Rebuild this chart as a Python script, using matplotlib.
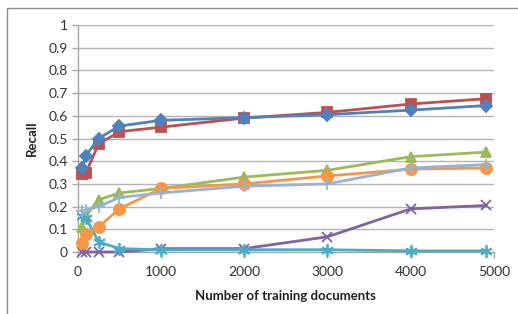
import matplotlib
matplotlib.use("Agg")
import matplotlib.pyplot as plt
from matplotlib.patches import Rectangle

x = [50, 100, 250, 500, 1000, 2000, 3000, 4000, 4900]
s_blue = [0.37, 0.425, 0.50, 0.555, 0.58, 0.592, 0.605, 0.625, 0.645]
s_red = [0.345, 0.35, 0.475, 0.53, 0.55, 0.59, 0.615, 0.652, 0.675]
s_green = [0.11, 0.16, 0.23, 0.26, 0.28, 0.33, 0.36, 0.42, 0.44]
s_purple = [0.0, 0.0, 0.0, 0.0, 0.015, 0.015, 0.067, 0.19, 0.205]
s_teal = [0.16, 0.15, 0.045, 0.015, 0.01, 0.01, 0.01, 0.005, 0.005]
s_orange = [0.04, 0.08, 0.11, 0.19, 0.28, 0.30, 0.335, 0.365, 0.37]
s_lblue = [0.18, 0.185, 0.20, 0.24, 0.26, 0.29, 0.30, 0.37, 0.385]

xticks = [0, 1000, 2000, 3000, 4000, 5000]
yticks = [0, 0.1, 0.2, 0.3, 0.4, 0.5, 0.6, 0.7, 0.8, 0.9, 1]
ytick_labels = ["0", "0.1", "0.2", "0.3", "0.4", "0.5", "0.6", "0.7", "0.8", "0.9", "1"]

plt.rcParams['font.family'] = ['Lato', 'DejaVu Sans']

fig = plt.figure(figsize=(5.18, 3.14), dpi=100)
fig.patches.append(Rectangle((7/518, -0.1), 1.2, 1 - 8/314 + 0.1, transform=fig.transFigure,
                             fill=False, edgecolor='#8c8c8c', linewidth=1.0))
ax = fig.add_axes([77.7/518, 1 - 252/314, (494 - 77.7)/518, (252 - 25)/314])

series = [
    (s_red, '#C0504D', 's', 7),
    (s_blue, '#4F81BD', 'D', 6.5),
    (s_green, '#9BBB59', '^', 7.5),
    (s_purple, '#8064A2', 'x', 7.5),
    (s_teal, '#4BACC6', (6, 2, 0), 9),
    (s_orange, '#F79646', 'o', 8),
    (s_lblue, '#95B3D7', '+', 9),
]
for vals, c, m, ms in series:
    ax.plot(x, vals, color=c, linewidth=2.0, marker=m, markersize=ms,
            markerfacecolor=c, markeredgecolor=c, markeredgewidth=1.3, clip_on=False, zorder=3)

ax.set_xlim(0, 5000)
ax.set_ylim(0, 1)
ax.set_xticks(xticks)
ax.set_xticklabels([str(t) for t in xticks])
ax.set_yticks(yticks)
ax.set_yticklabels(ytick_labels)
ax.grid(axis='y', color='#b3b3b3', linewidth=1.0)
ax.set_axisbelow(True)
for sp in ['top', 'right']:
    ax.spines[sp].set_visible(False)
for sp in ['left', 'bottom']:
    ax.spines[sp].set_color('#a6a6a6')
    ax.spines[sp].set_linewidth(1.0)
ax.tick_params(axis='both', colors='#a6a6a6', labelcolor='#333333', labelsize=10, length=4, width=1.0)
ax.tick_params(axis='x', pad=6)
ax.tick_params(axis='y', pad=3)
ax.set_xlabel('Number of training documents', fontsize=9.5, fontweight='bold', color='#222222', labelpad=9)
ax.set_ylabel('Recall', fontsize=9.5, fontweight='bold', color='#222222', labelpad=8)

fig.savefig('out.png', dpi=100)
